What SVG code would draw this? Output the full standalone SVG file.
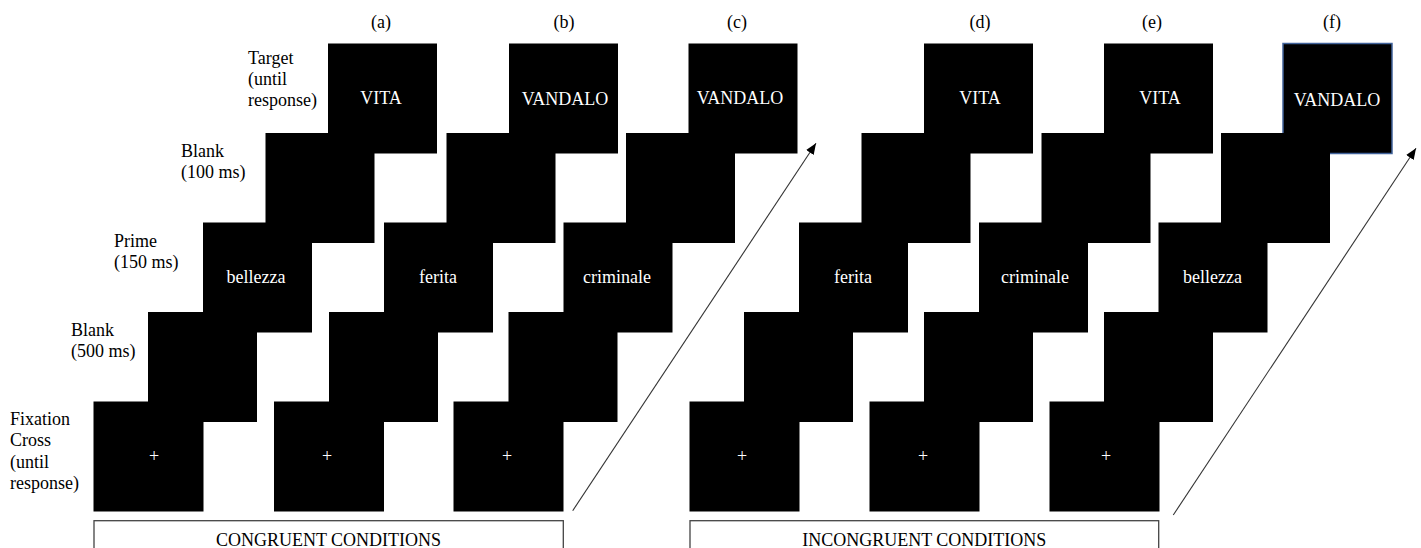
<svg xmlns="http://www.w3.org/2000/svg" width="1421" height="548" viewBox="0 0 1421 548">
<style>
.scr{fill:#000}
.wt{fill:#fff;font-family:"Liberation Serif","Times New Roman",serif;font-size:18px;text-anchor:middle}
.bk{fill:#000;font-family:"Liberation Serif","Times New Roman",serif;font-size:18px}
.mid{text-anchor:middle}
.box{fill:none;stroke:#444;stroke-width:1.3}
.arr{stroke:#333;stroke-width:1.1;fill:none;marker-end:url(#ah)}
</style>
<defs>
<marker id="ah" markerUnits="userSpaceOnUse" markerWidth="12" markerHeight="10" refX="11" refY="4.5" orient="auto">
<path d="M0,0 L11,4.5 L0,9 z" fill="#000"/>
</marker>
</defs>
<rect width="1421" height="548" fill="#fff"/>

<g id="row-labels">
<text class="bk" x="248" y="64">Target</text>
<text class="bk" x="248" y="85">(until</text>
<text class="bk" x="248" y="106">response)</text>
<text class="bk" x="181" y="157">Blank</text>
<text class="bk" x="181" y="178">(100 ms)</text>
<text class="bk" x="114" y="247">Prime</text>
<text class="bk" x="114" y="268">(150 ms)</text>
<text class="bk" x="71" y="336">Blank</text>
<text class="bk" x="71" y="357">(500 ms)</text>
<text class="bk" x="10" y="425">Fixation</text>
<text class="bk" x="10" y="446">Cross</text>
<text class="bk" x="10" y="468">(until</text>
<text class="bk" x="10" y="489">response)</text>
</g>

<g id="trial-a">
<text class="bk mid" x="381" y="28">(a)</text>
<g id="a-target"><rect class="scr" x="328" y="43.5" width="109" height="110"/><text class="wt" x="381" y="104">VITA</text></g>
<g id="a-blank100"><rect class="scr" x="265.5" y="133" width="109" height="110"/></g>
<g id="a-prime"><rect class="scr" x="203" y="222.5" width="109" height="110"/><text class="wt" x="256" y="283">bellezza</text></g>
<g id="a-blank500"><rect class="scr" x="148" y="312" width="109" height="110"/></g>
<g id="a-fix"><rect class="scr" x="93.5" y="401.5" width="110" height="110"/><text class="wt" x="154" y="462">+</text></g>
</g>

<g id="trial-b">
<text class="bk mid" x="564" y="28">(b)</text>
<g id="b-target"><rect class="scr" x="509" y="43.5" width="109" height="110"/><text class="wt" x="565" y="105">VANDALO</text></g>
<g id="b-blank100"><rect class="scr" x="446.5" y="133" width="109" height="110"/></g>
<g id="b-prime"><rect class="scr" x="384" y="222.5" width="109" height="110"/><text class="wt" x="438" y="283">ferita</text></g>
<g id="b-blank500"><rect class="scr" x="329" y="312" width="109" height="110"/></g>
<g id="b-fix"><rect class="scr" x="274" y="401.5" width="110" height="110"/><text class="wt" x="327" y="462">+</text></g>
</g>

<g id="trial-c">
<text class="bk mid" x="737" y="28">(c)</text>
<g id="c-target"><rect class="scr" x="688.5" y="43.5" width="109" height="110"/><text class="wt" x="740" y="104">VANDALO</text></g>
<g id="c-blank100"><rect class="scr" x="626" y="133" width="109" height="110"/></g>
<g id="c-prime"><rect class="scr" x="563.5" y="222.5" width="109" height="110"/><text class="wt" x="617" y="283">criminale</text></g>
<g id="c-blank500"><rect class="scr" x="508.5" y="312" width="109" height="110"/></g>
<g id="c-fix"><rect class="scr" x="453.5" y="401.5" width="110" height="110"/><text class="wt" x="507" y="462">+</text></g>
</g>

<g id="trial-d">
<text class="bk mid" x="980" y="28">(d)</text>
<g id="d-target"><rect class="scr" x="924" y="43.5" width="109" height="110"/><text class="wt" x="980" y="104">VITA</text></g>
<g id="d-blank100"><rect class="scr" x="861.5" y="133" width="109" height="110"/></g>
<g id="d-prime"><rect class="scr" x="799" y="222.5" width="109" height="110"/><text class="wt" x="853" y="283">ferita</text></g>
<g id="d-blank500"><rect class="scr" x="744" y="312" width="109" height="110"/></g>
<g id="d-fix"><rect class="scr" x="689.5" y="401.5" width="110" height="110"/><text class="wt" x="742" y="462">+</text></g>
</g>

<g id="trial-e">
<text class="bk mid" x="1152" y="28">(e)</text>
<g id="e-target"><rect class="scr" x="1104" y="43.5" width="109" height="110"/><text class="wt" x="1160" y="104">VITA</text></g>
<g id="e-blank100"><rect class="scr" x="1041.5" y="133" width="109" height="110"/></g>
<g id="e-prime"><rect class="scr" x="979" y="222.5" width="109" height="110"/><text class="wt" x="1035" y="283">criminale</text></g>
<g id="e-blank500"><rect class="scr" x="924" y="312" width="109" height="110"/></g>
<g id="e-fix"><rect class="scr" x="869.5" y="401.5" width="110" height="110"/><text class="wt" x="923" y="462">+</text></g>
</g>

<g id="trial-f">
<text class="bk mid" x="1332" y="28">(f)</text>
<g id="f-target"><rect class="scr" x="1283" y="43.5" width="109" height="110" stroke="#41639b" stroke-width="1.5"/><text class="wt" x="1337" y="106">VANDALO</text></g>
<g id="f-blank100"><rect class="scr" x="1221" y="133" width="109" height="110"/></g>
<g id="f-prime"><rect class="scr" x="1158.5" y="222.5" width="109" height="110"/><text class="wt" x="1212.5" y="283">bellezza</text></g>
<g id="f-blank500"><rect class="scr" x="1104" y="312" width="109" height="110"/></g>
<g id="f-fix"><rect class="scr" x="1049.5" y="401.5" width="110" height="110"/><text class="wt" x="1106" y="462">+</text></g>
</g>

<g id="connectors">
<line class="arr" x1="572.7" y1="510.7" x2="816" y2="143.3"/>
<line class="arr" x1="1173.3" y1="515" x2="1416" y2="148.3"/>
</g>

<g id="congruent-box">
<rect class="box" x="94" y="520.7" width="469.3" height="40"/>
<text class="bk mid" x="328.5" y="546">CONGRUENT CONDITIONS</text>
</g>
<g id="incongruent-box">
<rect class="box" x="690" y="520.7" width="468.7" height="40"/>
<text class="bk mid" x="924.3" y="546">INCONGRUENT CONDITIONS</text>
</g>
</svg>
